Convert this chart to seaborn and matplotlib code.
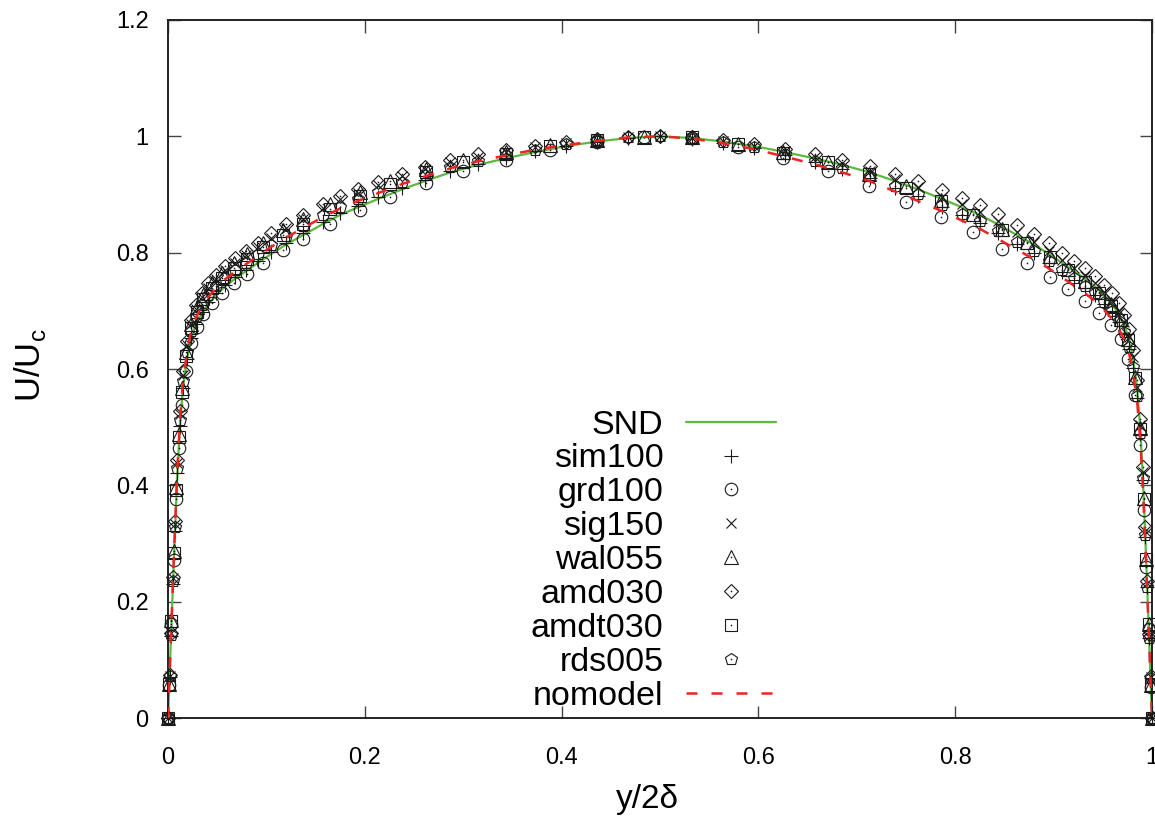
import matplotlib
matplotlib.use("Agg")
import matplotlib.pyplot as plt
import seaborn as sns

# ---------------------------------------------------------------- data
# wall-normal positions y/2delta (fine grid and coarse grid)
y_a = [0.0, 0.0015, 0.003, 0.005, 0.007, 0.0095, 0.012, 0.015, 0.019, 0.023,
       0.028, 0.034, 0.041, 0.049, 0.058, 0.068, 0.079, 0.091, 0.105, 0.12,
       0.137, 0.157, 0.175, 0.193, 0.213, 0.238, 0.261, 0.287, 0.315, 0.343,
       0.373, 0.404, 0.436, 0.467, 0.5,
       0.533, 0.564, 0.596, 0.627, 0.657, 0.685, 0.713, 0.739, 0.762, 0.787,
       0.807, 0.825, 0.843, 0.863, 0.88, 0.895, 0.909, 0.921, 0.932, 0.942,
       0.951, 0.959, 0.966, 0.972, 0.977, 0.981, 0.985, 0.988, 0.9905, 0.993,
       0.995, 0.997, 0.9985, 1.0]
y_b = [0.0, 0.0012, 0.0035, 0.006, 0.0085, 0.011, 0.014, 0.018, 0.023, 0.029,
       0.036, 0.045, 0.055, 0.067, 0.08, 0.097, 0.117, 0.137, 0.165, 0.195,
       0.226, 0.262, 0.30, 0.343, 0.388, 0.436, 0.484,
       0.532, 0.579, 0.625, 0.671, 0.712, 0.750, 0.786, 0.818, 0.848, 0.873,
       0.896, 0.915, 0.932, 0.946, 0.958, 0.968, 0.976, 0.983, 0.988, 0.9915,
       0.994, 0.9965, 0.9988, 1.0]

# U/Uc on y_a
snd = [0.000, 0.070, 0.140, 0.230, 0.320, 0.420, 0.500, 0.565, 0.615, 0.650,
       0.675, 0.695, 0.712, 0.727, 0.742, 0.755, 0.768, 0.782, 0.798, 0.814,
       0.830, 0.849, 0.865, 0.878, 0.892, 0.909, 0.923, 0.938, 0.951, 0.962,
       0.973, 0.983, 0.991, 0.997, 1.000,
       0.997, 0.991, 0.983, 0.973, 0.962, 0.951, 0.938, 0.923, 0.909, 0.892,
       0.878, 0.865, 0.849, 0.830, 0.814, 0.798, 0.782, 0.768, 0.755, 0.742,
       0.727, 0.712, 0.695, 0.675, 0.650, 0.615, 0.565, 0.500, 0.420, 0.320,
       0.230, 0.140, 0.070, 0.000]
sim100 = [0.000, 0.070, 0.141, 0.231, 0.322, 0.422, 0.502, 0.568, 0.618, 0.653,
          0.678, 0.698, 0.715, 0.730, 0.745, 0.758, 0.771, 0.785, 0.801, 0.817,
          0.833, 0.852, 0.868, 0.881, 0.895, 0.911, 0.925, 0.940, 0.953, 0.963,
          0.974, 0.984, 0.991, 0.997, 1.000,
          0.996, 0.989, 0.980, 0.968, 0.956, 0.943, 0.929, 0.912, 0.897, 0.879,
          0.864, 0.851, 0.834, 0.815, 0.799, 0.783, 0.767, 0.753, 0.740, 0.727,
          0.712, 0.697, 0.680, 0.660, 0.635, 0.601, 0.551, 0.488, 0.410, 0.312,
          0.225, 0.138, 0.068, 0.000]
sig150 = [0.000, 0.073, 0.146, 0.240, 0.334, 0.438, 0.522, 0.590, 0.642, 0.678,
          0.703, 0.723, 0.740, 0.755, 0.770, 0.783, 0.796, 0.810, 0.826, 0.842,
          0.858, 0.877, 0.892, 0.903, 0.916, 0.931, 0.943, 0.955, 0.965, 0.973,
          0.981, 0.989, 0.994, 0.998, 1.000,
          0.997, 0.992, 0.984, 0.975, 0.964, 0.954, 0.941, 0.927, 0.913, 0.896,
          0.883, 0.870, 0.854, 0.835, 0.819, 0.803, 0.787, 0.773, 0.760, 0.747,
          0.732, 0.717, 0.700, 0.680, 0.655, 0.620, 0.569, 0.504, 0.423, 0.322,
          0.232, 0.141, 0.070, 0.000]
amd030 = [0.000, 0.074, 0.147, 0.242, 0.338, 0.443, 0.528, 0.597, 0.648, 0.685,
          0.710, 0.730, 0.747, 0.762, 0.777, 0.790, 0.803, 0.817, 0.833, 0.849,
          0.865, 0.884, 0.898, 0.910, 0.922, 0.936, 0.948, 0.959, 0.969, 0.976,
          0.984, 0.990, 0.995, 0.999, 1.000,
          0.998, 0.993, 0.987, 0.978, 0.969, 0.960, 0.949, 0.936, 0.923, 0.907,
          0.894, 0.882, 0.867, 0.848, 0.832, 0.816, 0.800, 0.786, 0.773, 0.760,
          0.745, 0.730, 0.713, 0.693, 0.668, 0.632, 0.581, 0.514, 0.432, 0.329,
          0.236, 0.144, 0.072, 0.000]
rds005 = [0.000, 0.072, 0.143, 0.235, 0.328, 0.430, 0.512, 0.579, 0.629, 0.665,
          0.690, 0.710, 0.727, 0.742, 0.757, 0.770, 0.783, 0.797, 0.813, 0.829,
          0.845, 0.864, 0.879, 0.892, 0.905, 0.921, 0.934, 0.947, 0.958, 0.968,
          0.977, 0.986, 0.993, 0.998, 1.000,
          0.996, 0.990, 0.981, 0.969, 0.957, 0.945, 0.931, 0.915, 0.900, 0.882,
          0.867, 0.854, 0.837, 0.818, 0.802, 0.786, 0.770, 0.756, 0.743, 0.730,
          0.715, 0.700, 0.683, 0.663, 0.638, 0.604, 0.554, 0.490, 0.412, 0.314,
          0.226, 0.138, 0.069, 0.000]
nomodel = [0.000, 0.071, 0.142, 0.234, 0.326, 0.428, 0.510, 0.576, 0.626, 0.662,
           0.687, 0.707, 0.724, 0.739, 0.754, 0.767, 0.780, 0.794, 0.810, 0.826,
           0.842, 0.861, 0.876, 0.889, 0.902, 0.918, 0.931, 0.945, 0.957, 0.967,
           0.977, 0.985, 0.992, 0.998, 1.000,
           0.996, 0.988, 0.978, 0.965, 0.952, 0.938, 0.923, 0.905, 0.889, 0.871,
           0.855, 0.841, 0.824, 0.805, 0.789, 0.773, 0.757, 0.743, 0.730, 0.717,
           0.702, 0.687, 0.670, 0.650, 0.625, 0.591, 0.542, 0.480, 0.404, 0.307,
           0.221, 0.135, 0.067, 0.000]

# U/Uc on y_b
grd100 = [0.000, 0.056, 0.161, 0.272, 0.376, 0.464, 0.538, 0.597, 0.644, 0.672,
          0.694, 0.714, 0.731, 0.748, 0.763, 0.783, 0.805, 0.824, 0.850, 0.874,
          0.896, 0.920, 0.941, 0.960, 0.976, 0.990, 0.999,
          0.997, 0.981, 0.963, 0.940, 0.915, 0.887, 0.861, 0.835, 0.806, 0.783,
          0.759, 0.737, 0.717, 0.697, 0.676, 0.651, 0.617, 0.555, 0.470, 0.357,
          0.259, 0.153, 0.053, 0.000]
wal055 = [0.000, 0.058, 0.168, 0.287, 0.397, 0.489, 0.567, 0.629, 0.678, 0.706,
          0.728, 0.748, 0.765, 0.782, 0.797, 0.817, 0.839, 0.858, 0.883, 0.904,
          0.924, 0.944, 0.959, 0.973, 0.985, 0.994, 0.999,
          0.998, 0.987, 0.973, 0.956, 0.936, 0.914, 0.890, 0.867, 0.841, 0.818,
          0.794, 0.772, 0.752, 0.732, 0.711, 0.686, 0.652, 0.587, 0.498, 0.378,
          0.274, 0.161, 0.056, 0.000]
amdt030 = [0.000, 0.058, 0.167, 0.283, 0.392, 0.483, 0.560, 0.622, 0.670, 0.698,
           0.720, 0.740, 0.757, 0.774, 0.789, 0.809, 0.831, 0.850, 0.875, 0.897,
           0.918, 0.938, 0.955, 0.970, 0.983, 0.993, 0.999,
           0.998, 0.986, 0.972, 0.955, 0.935, 0.912, 0.889, 0.865, 0.839, 0.816,
           0.792, 0.770, 0.750, 0.730, 0.709, 0.684, 0.650, 0.585, 0.496, 0.377,
           0.273, 0.161, 0.056, 0.000]

xticks = [0, 0.2, 0.4, 0.6, 0.8, 1.0]
xticklabels = ['0', '0.2', '0.4', '0.6', '0.8', '1']
yticks = [0, 0.2, 0.4, 0.6, 0.8, 1.0, 1.2]
yticklabels = ['0', '0.2', '0.4', '0.6', '0.8', '1', '1.2']

# ---------------------------------------------------------------- plot
sns.set_theme(style="ticks")
plt.rcParams['font.family'] = ['Liberation Sans', 'DejaVu Sans']
plt.rcParams['text.color'] = 'black'

fig = plt.figure(figsize=(11.55, 8.19), dpi=100)
ax = fig.add_axes([0.1455, 0.1233, 0.8519, 0.8523])

green = '#5db83f'
red = '#ec2424'

sns.lineplot(x=y_a, y=snd, ax=ax, color=green, linewidth=1.6, sort=False,
             estimator=None, legend=False, zorder=2)
h_snd = ax.lines[-1]

# (name, x, y, marker, size, has center dot)
markers = [
    ('sim100', y_a, sim100, '+', 9.5, False),
    ('grd100', y_b, grd100, 'o', 9, True),
    ('sig150', y_a, sig150, 'x', 7.5, False),
    ('wal055', y_b, wal055, '^', 9.5, True),
    ('amd030', y_a, amd030, 'D', 7.5, True),
    ('amdt030', y_b, amdt030, 's', 8.5, True),
    ('rds005', y_a, rds005, 'p', 9, True),
]
handles = [h_snd]
for name, xs, ys, m, ms, dot in markers:
    sns.lineplot(x=xs, y=ys, ax=ax, marker=m, linestyle='', color='black',
                 markersize=ms, markerfacecolor='none', markeredgecolor='#1a1a1a',
                 markeredgewidth=0.8, sort=False, estimator=None, legend=False,
                 zorder=3)
    h = ax.lines[-1]
    h.set_clip_on(False)
    if dot:
        sns.lineplot(x=xs, y=ys, ax=ax, marker='o', linestyle='', color='#1a1a1a',
                     markersize=1.2, markeredgewidth=0, sort=False,
                     estimator=None, legend=False, zorder=3)
        d = ax.lines[-1]
        d.set_clip_on(False)
        h = (h, d)
    handles.append(h)

sns.lineplot(x=y_a, y=nomodel, ax=ax, color=red, linewidth=1.8, sort=False,
             estimator=None, legend=False, zorder=4)
h_nm = ax.lines[-1]
h_nm.set_dashes([4.4, 5.6])
handles.append(h_nm)

labels = ['SND'] + [m[0] for m in markers] + ['nomodel']
leg = ax.legend(handles, labels, loc='lower right', bbox_to_anchor=(0.618, 0.009),
                markerfirst=False, frameon=False, fontsize=24.5, handlelength=2.65,
                handletextpad=0.66, labelspacing=0.085, borderpad=0, borderaxespad=0,
                numpoints=1)
for t in leg.get_texts():
    t.set_color('black')

ax.set_xlim(0, 1)
ax.set_ylim(0, 1.2)
ax.set_xticks(xticks)
ax.set_xticklabels(xticklabels)
ax.set_yticks(yticks)
ax.set_yticklabels(yticklabels)
ax.tick_params(direction='in', length=9, width=1.0, top=True, right=True,
               labelsize=17, color='#444444', labelcolor='black')
ax.tick_params(axis='x', pad=21)
ax.tick_params(axis='y', pad=14)
for s in ax.spines.values():
    s.set_linewidth(1.4)
    s.set_color('#222222')

ax.set_xlabel('y/2\u03b4', fontsize=24, va='center', color='black')
ax.xaxis.set_label_coords(0.487, -0.117)
ax.set_ylabel(r'U/U$_{\mathregular{c}}$', fontsize=25, va='center', color='black')
ax.yaxis.set_label_coords(-0.14, 0.505)

fig.savefig('out.png', dpi=100)
